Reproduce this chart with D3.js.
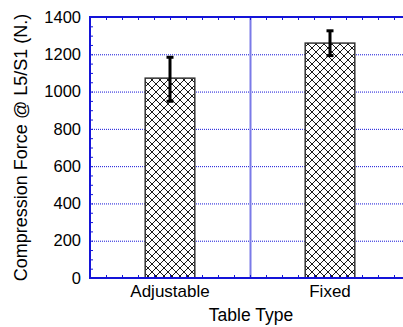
<!DOCTYPE html>
<html>
<head>
<meta charset="utf-8">
<script src="https://cdn.jsdelivr.net/npm/d3@7"></script>
<style>
  body { margin: 0; background: #fff; }
  svg { display: block; font-family: 'Liberation Sans', Arial, sans-serif; }
</style>
</head>
<body>
<div id="chart"></div>
<script>
// chart values
const tableTypes = ['Adjustable', 'Fixed']
const meanForce = [1072, 1260]
const errLow = [948, 1193]
const errHigh = [1184, 1326]
const yTicks = [0, 200, 400, 600, 800, 1000, 1200, 1400]

const W = 403
const H = 327
const margin = { top: 17, left: 90 }
const plotRight = 410 // plot runs a bit past the cropped window
const plotBottom = 278

const blue = '#1414d8'

const svg = d3.select('#chart').append('svg')
  .attr('width', W)
  .attr('height', H)

// cross hatch for the bars
const pat = svg.append('defs').append('pattern')
  .attr('id', 'hatch')
  .attr('patternUnits', 'userSpaceOnUse')
  .attr('width', 8)
  .attr('height', 8)
pat.append('rect').attr('width', 8).attr('height', 8).attr('fill', '#fff')
pat.append('path')
  .attr('d', 'M0,0L8,8M0,8L8,0M-1,1L1,-1M7,9L9,7M-1,7L1,9M7,-1L9,1')
  .attr('stroke', '#000')
  .attr('stroke-width', 0.9)

const x = d3.scaleBand()
  .domain(tableTypes)
  .range([margin.left, plotRight])
  .paddingInner(0)
  .paddingOuter(0)

// linear helper for the minor ticks along x
const xMinor = d3.scaleLinear().domain([0, tableTypes.length]).range([margin.left, plotRight])

const y = d3.scaleLinear()
  .domain([0, 1400])
  .range([plotBottom, margin.top])

// dotted grid lines
svg.append('g')
  .selectAll('line')
  .data(yTicks.slice(1, -1))
  .enter().append('line')
  .attr('x1', margin.left)
  .attr('x2', plotRight)
  .attr('y1', d => y(d) + 0.5)
  .attr('y2', d => y(d) + 0.5)
  .attr('stroke', blue)
  .attr('stroke-width', 1)
  .attr('stroke-dasharray', '1,1')

// category divider
svg.append('line')
  .attr('x1', xMinor(1) + 0.5)
  .attr('x2', xMinor(1) + 0.5)
  .attr('y1', margin.top)
  .attr('y2', plotBottom)
  .attr('stroke', '#7a7ae8')
  .attr('stroke-width', 2)

// bars
const barW = x.bandwidth() * 0.31
svg.append('g')
  .selectAll('rect')
  .data(tableTypes)
  .enter().append('rect')
  .attr('x', d => x(d) + x.bandwidth() / 2 - barW / 2)
  .attr('y', (d, i) => y(meanForce[i]))
  .attr('width', barW)
  .attr('height', (d, i) => y(0) - y(meanForce[i]))
  .attr('fill', 'url(#hatch)')
  .attr('stroke', '#333')
  .attr('stroke-width', 1.5)

// error bars
const eb = svg.append('g').attr('stroke', '#000').attr('stroke-width', 3)
tableTypes.forEach((t, i) => {
  const cx = x(t) + x.bandwidth() / 2
  eb.append('line').attr('x1', cx).attr('x2', cx).attr('y1', y(errHigh[i])).attr('y2', y(errLow[i]))
  eb.append('line').attr('x1', cx - 3.5).attr('x2', cx + 3.5).attr('y1', y(errHigh[i])).attr('y2', y(errHigh[i]))
  eb.append('line').attr('x1', cx - 3.5).attr('x2', cx + 3.5).attr('y1', y(errLow[i])).attr('y2', y(errLow[i]))
})

// minor ticks, inward
const axisStyle = (g) => {
  g.select('.domain').remove()
  g.selectAll('line').attr('stroke', blue)
  g.selectAll('text').remove()
}
svg.append('g')
  .attr('transform', `translate(0,${plotBottom})`)
  .call(d3.axisTop(xMinor).tickValues(d3.range(0, 20.5).map(d => d / 10)).tickSize(3).tickFormat(''))
  .call(axisStyle)
svg.append('g')
  .attr('transform', `translate(0,${margin.top})`)
  .call(d3.axisBottom(xMinor).tickValues(d3.range(0, 20.5).map(d => d / 10)).tickSize(3).tickFormat(''))
  .call(axisStyle)
svg.append('g')
  .attr('transform', `translate(${margin.left},0)`)
  .call(d3.axisRight(y).tickValues(d3.range(0, 1401, 50)).tickSize(3).tickFormat(''))
  .call(axisStyle)

// frame lines
svg.append('line').attr('x1', margin.left).attr('x2', plotRight)
  .attr('y1', plotBottom).attr('y2', plotBottom).attr('stroke', blue).attr('stroke-width', 2)
svg.append('line').attr('x1', margin.left).attr('x2', plotRight)
  .attr('y1', margin.top).attr('y2', margin.top).attr('stroke', blue).attr('stroke-width', 2)
svg.append('line').attr('x1', margin.left).attr('x2', margin.left)
  .attr('y1', margin.top - 1).attr('y2', plotBottom + 1).attr('stroke', blue).attr('stroke-width', 2)

// tick labels
svg.append('g')
  .attr('transform', `translate(${margin.left},0)`)
  .call(d3.axisLeft(y).tickValues(yTicks).tickSize(0).tickPadding(9).tickFormat(d3.format('d')))
  .call(g => g.select('.domain').remove())
  .selectAll('text')
  .attr('font-size', 16.5)
  .attr('font-family', 'Liberation Sans, Arial, sans-serif')
  .attr('fill', '#000')

svg.append('g')
  .attr('transform', `translate(0,${plotBottom})`)
  .call(d3.axisBottom(x).tickSize(0).tickPadding(7))
  .call(g => g.select('.domain').remove())
  .selectAll('text')
  .attr('font-size', 17)
  .attr('font-family', 'Liberation Sans, Arial, sans-serif')
  .attr('fill', '#000')

// axis titles
svg.append('text')
  .attr('x', 251)
  .attr('y', 321)
  .attr('text-anchor', 'middle')
  .attr('font-size', 17.5)
  .text('Table Type')

svg.append('text')
  .attr('transform', 'translate(27,147.5) rotate(-90)')
  .attr('text-anchor', 'middle')
  .attr('font-size', 18)
  .text('Compression Force @ L5/S1 (N.)')
</script>
</body>
</html>
